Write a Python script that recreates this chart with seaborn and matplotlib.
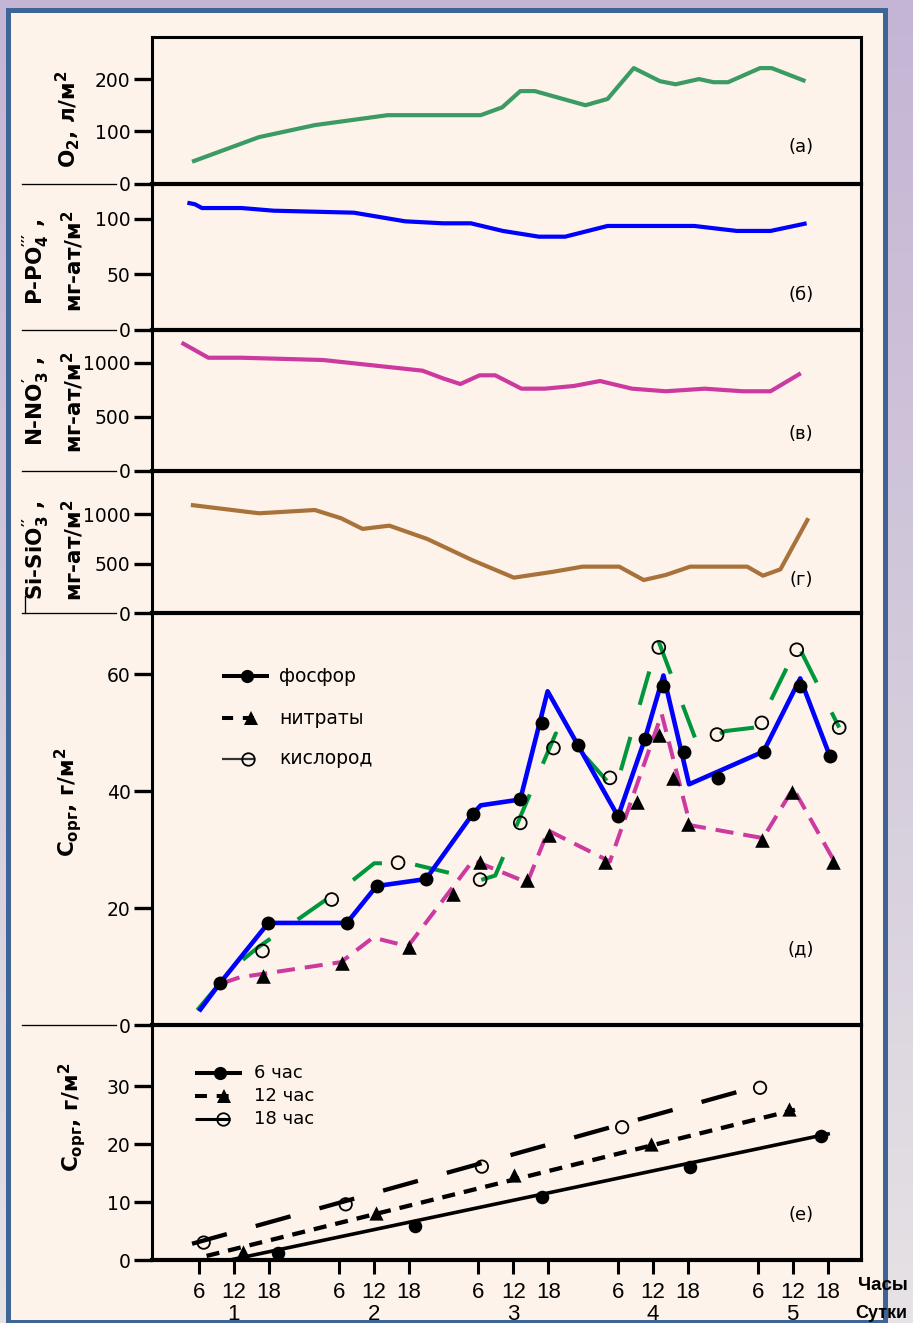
import numpy as np
import matplotlib
matplotlib.use("Agg")
import matplotlib.pyplot as plt
import matplotlib.transforms as mtransforms
from matplotlib.lines import Line2D
from matplotlib.patches import Rectangle
from matplotlib.colors import LinearSegmentedColormap
import seaborn as sns

plt.rcParams.update({
    "font.family": ["DejaVu Sans"],
    "mathtext.fontset": "custom",
    "mathtext.rm": "DejaVu Sans:bold",
    "mathtext.it": "DejaVu Sans:bold",
    "mathtext.bf": "DejaVu Sans:bold",
    "lines.scale_dashes": False,
    "axes.unicode_minus": False,
})

# ---------------- data (time in hours from 00:00 of day 1) ----------------
# (а) dissolved oxygen, л/м²
o2_hours = [4.8, 16.3, 25.9, 38.4, 54.4, 58.1, 61.2, 63.7, 72.4, 76.2, 80.7,
            85.2, 87.9, 91.9, 94.4, 96.9, 102.4, 104.4, 110.2]
o2_vals = [42, 89, 112, 131, 131, 146, 177, 177, 150, 162, 221,
           196, 190, 200, 194, 194, 221, 221, 196]

# (б) phosphate P-PO4, мг-ат/м²
po4_hours = [4.0, 5.3, 6.5, 13.3, 18.8, 32.6, 41.4, 47.9, 52.7, 58.2, 64.4,
             68.9, 76.2, 91.1, 98.4, 104.2, 110.4]
po4_vals = [114.7, 113.3, 109.9, 109.9, 107.5, 105.7, 97.9, 96.1, 96.1, 89.2, 84.0,
            84.0, 93.7, 93.7, 89.2, 89.2, 96.1]

# (в) nitrate N-NO3, мг-ат/м²
no3_hours = [3.0, 7.6, 13.3, 27.3, 44.4, 47.9, 50.9, 54.2, 56.9, 61.4, 65.4,
             70.4, 74.9, 80.4, 86.2, 92.9, 99.4, 104.2, 109.4]
no3_vals = [1186, 1046, 1046, 1025, 926, 855, 802, 883, 883, 759, 759,
            784, 830, 759, 735, 759, 735, 735, 902]

# (г) silicate Si-SiO3, мг-ат/м²
si_hours = [4.6, 16.3, 25.9, 30.4, 34.1, 38.7, 45.2, 52.9, 60.1, 66.9, 71.9,
            78.2, 82.4, 86.2, 90.4, 100.2, 102.9, 105.9, 110.7]
si_vals = [1094, 1010, 1043, 960, 852, 885, 751, 538, 360, 420, 471,
           471, 336, 387, 471, 471, 380, 444, 960]

# (д) organic carbon estimated from phosphorus, nitrates and oxygen, г/м²
p_line_h = [6.0, 9.6, 17.9, 31.4, 36.5, 45.0, 53.0, 54.4, 61.2, 65.9, 78.0,
            82.6, 85.8, 90.2, 103.0, 109.3, 114.4]
p_line_v = [2.4, 7.2, 17.5, 17.5, 23.8, 25.0, 36.1, 37.6, 38.6, 57.1, 35.7,
            48.9, 59.8, 41.2, 46.8, 59.3, 46.0]
p_pts_h = [9.6, 17.9, 31.4, 36.5, 45.0, 53.0, 61.2, 64.9, 71.2, 78.0, 82.6,
           85.8, 89.3, 95.2, 103.0, 109.3, 114.4]
p_pts_v = [7.2, 17.5, 17.5, 23.8, 25.0, 36.1, 38.6, 51.7, 48.0, 35.7, 48.9,
           58.0, 46.8, 42.3, 46.8, 58.0, 46.0]

n_line_h = [10.0, 13.0, 30.4, 35.9, 41.9, 53.1, 62.4, 66.0, 76.6, 85.5, 90.4,
            102.9, 108.1, 114.9]
n_line_v = [7.2, 8.2, 10.8, 15.0, 13.5, 28.2, 24.4, 33.3, 28.0, 53.2, 34.2,
            32.0, 40.5, 28.5]
n_pts_h = [17.0, 30.5, 42.0, 49.7, 54.3, 62.3, 66.1, 75.8, 81.2, 85.1, 87.5,
           90.1, 102.7, 107.9, 115.0]
n_pts_v = [8.5, 10.6, 13.4, 22.5, 27.9, 24.9, 32.5, 27.9, 38.2, 49.6, 42.2,
           34.4, 31.7, 39.9, 27.9]

ox_line_h = [5.7, 11.7, 16.1, 31.3, 36.1, 42.1, 54.3, 56.9, 67.3, 72.5, 77.5,
             84.9, 91.7, 96.4, 101.5, 102.4, 108.9, 116.0]
ox_line_v = [2.6, 9.7, 13.3, 23.9, 27.7, 27.7, 24.8, 25.6, 49.9, 45.8, 40.2,
             65.8, 47.9, 50.3, 50.9, 51.8, 65.0, 50.9]
ox_pts_h = [16.9, 28.8, 40.2, 54.3, 61.2, 66.9, 76.6, 85.0, 95.0, 102.7, 108.7, 116.0]
ox_pts_v = [12.7, 21.5, 27.8, 24.9, 34.6, 47.4, 42.3, 64.6, 49.7, 51.7, 64.2, 50.9]

# (е) organic carbon at fixed hours of the day, г/м²
h06_pts_h = [19.6, 43.1, 64.9, 90.4, 112.9]
h06_pts_v = [1.2, 5.9, 10.9, 16.0, 21.3]
h12_pts_h = [13.6, 36.4, 60.1, 83.6, 107.4]
h12_pts_v = [1.3, 8.1, 14.7, 20.0, 26.0]
h18_pts_h = [6.8, 31.2, 54.6, 78.7, 102.4]
h18_pts_v = [3.0, 9.6, 16.1, 22.9, 29.7]
h06_trend_h = [11.3, 114.4]
h06_trend_v = [0.0, 21.8]
h12_trend_h = [7.3, 108.4]
h12_trend_v = [0.7, 25.9]
h18_trend_h = [4.8, 102.9]
h18_trend_v = [2.8, 30.2]

# axis ticks
hour_ticks = [6, 12, 18, 30, 36, 42, 54, 60, 66, 78, 84, 90, 102, 108, 114]
hour_labels = ["6", "12", "18"] * 5
days = [1, 2, 3, 4, 5]
panel_ylims = [281, 131.9, 1307, 1442, 70.43, 40.47]
panel_yticks = [[0, 100, 200], [0, 50, 100], [0, 500, 1000], [0, 500, 1000],
                [0, 20, 40, 60], [0, 10, 20, 30]]
panel_tags = ["(а)", "(б)", "(в)", "(г)", "(д)", "(е)"]
x_range = (-2.08, 119.71)

# ---------------- figure ----------------
W, H = 913, 1323
fig = plt.figure(figsize=(W / 100, H / 100), dpi=100)


def fx(px):
    return px / W


def fy(py):
    return 1 - py / H


# backdrop: soft gradient plus cream sheet with blue border
bg = fig.add_axes([0, 0, 1, 1], zorder=-10)
grad = np.linspace(0, 1, 256)[:, None]
cmap = LinearSegmentedColormap.from_list("fade", ["#c4b5d5", "#d3cadb", "#e6e2e5"])
bg.imshow(grad, aspect="auto", cmap=cmap, extent=[0, 1, 0, 1], origin="upper")
bg.add_patch(Rectangle((fx(7.5), fy(1321.5)), fx(885 - 7.5), (1321.5 - 10) / H,
                       transform=bg.transAxes, facecolor="#fdf3ea",
                       edgecolor="#3e6595", lw=3.6))
bg.set_xlim(0, 1)
bg.set_ylim(0, 1)
bg.axis("off")

X0, X1 = 152.0, 860.8
edges = [36.7, 183.7, 329.6, 470.5, 613.3, 1025.3, 1260.0]
axs = []
for i, (top, bot) in enumerate(zip(edges[:-1], edges[1:])):
    ax = fig.add_axes([fx(X0), fy(bot), fx(X1 - X0), (bot - top) / H])
    ax.set_facecolor("none")
    axs.append(ax)


def curve(ax, h, v, color, lw, dashes=None, z=2):
    sns.lineplot(x=h, y=v, ax=ax, color=color, linewidth=lw, estimator=None,
                 sort=False, legend=False, zorder=z)
    line = ax.lines[-1]
    line.set_solid_joinstyle("round")
    line.set_solid_capstyle("butt")
    if dashes is not None:
        line.set_dashes(dashes)
        line.set_dash_capstyle("butt")
    return line


def points(ax, h, v, marker, size, hollow=False, z=6):
    sns.scatterplot(x=h, y=v, ax=ax, marker=marker, s=size, color="black",
                    legend=False, zorder=z)
    coll = ax.collections[-1]
    if hollow:
        coll.set_facecolor("none")
        coll.set_edgecolor("black")
        coll.set_linewidth(1.3)
    else:
        coll.set_facecolor("black")
        coll.set_edgecolor("black")
        coll.set_linewidth(0)
    return coll


# (а)-(г) hydrochemistry curves
curve(axs[0], o2_hours, o2_vals, "#3c9b64", 3.0)
curve(axs[1], po4_hours, po4_vals, "#0000ff", 3.0)
curve(axs[2], no3_hours, no3_vals, "#cc3aa0", 3.0)
curve(axs[3], si_hours, si_vals, "#a8723a", 3.0)

# (д) organic carbon
ax = axs[4]
curve(ax, n_line_h, n_line_v, "#cc3aa0", 2.9, dashes=(13, 7.2), z=2)
curve(ax, ox_line_h, ox_line_v, "#00963c", 2.9, dashes=(25, 24), z=3)
curve(ax, p_line_h, p_line_v, "#0000ff", 3.3, z=4)
points(ax, p_pts_h, p_pts_v, "o", 100)
points(ax, n_pts_h, n_pts_v, "^", 110)
points(ax, ox_pts_h, ox_pts_v, "o", 85, hollow=True)

# (е) organic carbon trends
ax = axs[5]
curve(ax, h06_trend_h, h06_trend_v, "black", 2.6)
curve(ax, h12_trend_h, h12_trend_v, "black", 3.1, dashes=(9.4, 6.5))
curve(ax, h18_trend_h, h18_trend_v, "black", 3.1, dashes=(26, 21.6))
points(ax, h06_pts_h, h06_pts_v, "o", 95)
points(ax, h12_pts_h, h12_pts_v, "^", 105)
points(ax, h18_pts_h, h18_pts_v, "o", 80, hollow=True)

# axes styling
for i, ax in enumerate(axs):
    ax.set_xlim(*x_range)
    ax.set_ylim(0, panel_ylims[i])
    ax.set_yticks(panel_yticks[i])
    ax.set_xlabel("")
    ax.set_ylabel("")
    for side in ("left", "right"):
        ax.spines[side].set_linewidth(2.2)
        ax.spines[side].set_color("black")
    ax.spines["top"].set_visible(i == 0)
    ax.spines["top"].set_linewidth(2.2)
    ax.spines["bottom"].set_linewidth(3.0)
    ax.spines["bottom"].set_color("black")
    ax.tick_params(axis="y", direction="out", length=13, width=2.4, pad=2.5,
                   labelsize=13.5, colors="black")
    if i < 5:
        ax.tick_params(axis="x", bottom=False, labelbottom=False)
    ax.set_facecolor("none")

ax_e = axs[5]
ax_e.set_xticks(hour_ticks)
ax_e.set_xticklabels(hour_labels)
ax_e.tick_params(axis="x", direction="out", length=10, width=2.2, pad=5.5,
                 labelsize=16, labelfontfamily="Liberation Sans")
day_tr = mtransforms.blended_transform_factory(ax_e.transData, fig.transFigure)
for d in days:
    ax_e.text(12 + 24 * (d - 1), fy(1315), str(d), transform=day_tr, ha="center",
              va="center", fontsize=16, family="Liberation Sans")
fig.text(fx(858), fy(1285), "Часы", ha="left", va="center", fontsize=13.5,
         fontweight="bold", family="Liberation Sans")
fig.text(fx(855), fy(1313), "Сутки", ha="left", va="center", fontsize=13,
         fontweight="bold", family="Liberation Sans")

# thin leaders at panel boundaries
for y in edges[1:6]:
    fig.add_artist(Line2D([fx(22), fx(116)], [fy(y), fy(y)], color="black", lw=0.95))
# short upright stroke beside the lower silicate title
fig.add_artist(Line2D([fx(25), fx(25)], [fy(596), fy(613.3)], color="black", lw=0.95))

# panel tags
tag_pos = [147.5, 295, 434, 580, 949, 1215]
for tag, y in zip(panel_tags, tag_pos):
    fig.text(fx(801), fy(y), tag, ha="center", va="center", fontsize=13)

# axis titles
ylabels = [
    (68, 119.5, r"O$_2$, л/м$^2$"),
    (36, 262, r"P-PO$_4^{\prime\prime\prime}$ ,"),
    (73, 261, r"мг-ат/м$^2$"),
    (36, 401, r"N-NO$_3^{\prime}$ ,"),
    (73, 402, r"мг-ат/м$^2$"),
    (36, 550, r"Si-SiO$_3^{\prime\prime}$ ,"),
    (73, 550, r"мг-ат/м$^2$"),
    (68, 802, r"C$_{орг}$, г/м$^2$"),
    (72, 1117, r"C$_{орг}$, г/м$^2$"),
]
for x, y, s in ylabels:
    fig.text(fx(x), fy(y), s, rotation=90, ha="center", va="center",
             fontsize=15.5, fontweight="bold")


# hand-drawn legends
def legend_row(y, x0, x1, xm, marker, text, tx, lw=2.9, dashes=None,
               lcolor="black", hollow=False, ms=9.5, fs=13.5):
    ln = Line2D([fx(x0), fx(x1)], [fy(y), fy(y)], color=lcolor, lw=lw,
                solid_capstyle="butt")
    if dashes is not None:
        ln.set_dashes(dashes)
    fig.add_artist(ln)
    mk = Line2D([fx(xm)], [fy(y)], marker=marker, ms=ms, ls="none",
                mfc="none" if hollow else "black", mec="black",
                mew=1.3 if hollow else 0)
    fig.add_artist(mk)
    fig.text(fx(tx), fy(y), text, fontsize=fs, ha="left", va="center")


legend_row(676, 221.7, 268.8, 247, "o", "фосфор", 279)
legend_row(718, 221.7, 260, 251, "^", "нитраты", 279, dashes=(8, 7), ms=10.5)
legend_row(759, 221.7, 254, 248.4, "o", "кислород", 279, lw=1.6,
           lcolor="#333333", hollow=True, ms=9)

legend_row(1072.7, 195, 241.7, 220, "o", "6 час", 253.5, fs=13)
legend_row(1096, 195, 236, 224, "^", "12 час", 253.5, dashes=(8.6, 7), ms=10, fs=13)
legend_row(1119, 195, 230, 223, "o", "18 час", 253.5, lw=2.2, hollow=True, ms=9, fs=13)

fig.savefig("out.png", dpi=100, facecolor=fig.get_facecolor())
